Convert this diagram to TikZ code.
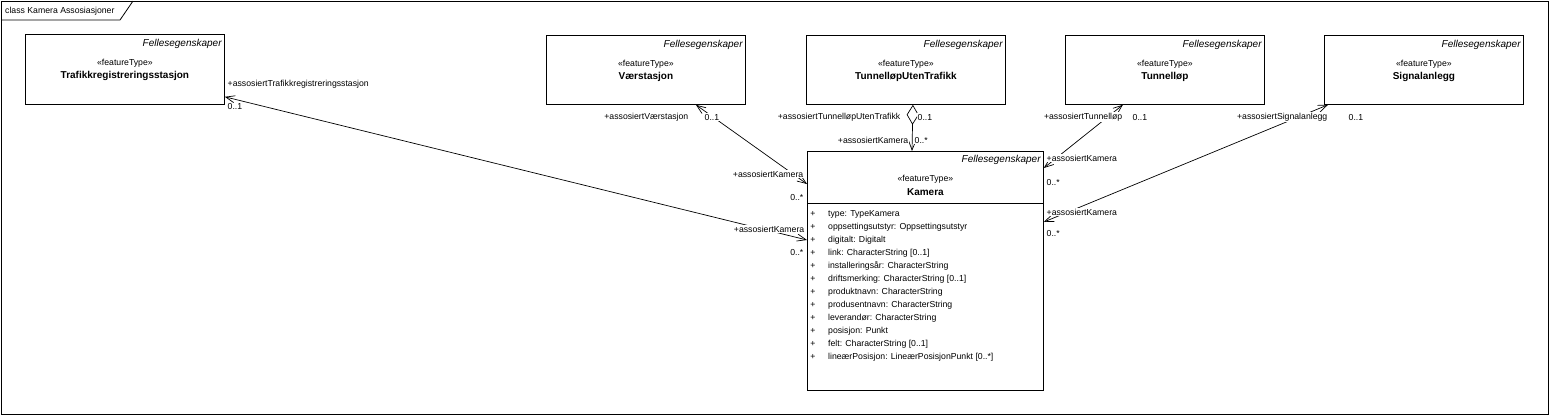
\documentclass[tikz,border=0pt]{standalone}
\usepackage{fontspec}
\setmainfont{Liberation Sans}
\usetikzlibrary{arrows.meta,calc}

\tikzset{
  classbox/.style={draw,line width=0.8pt,inner sep=0pt,anchor=north west,minimum width=199pt,minimum height=69pt},
  stereo/.style={inner sep=0pt},
  clsname/.style={inner sep=0pt,font=\bfseries},
  fellestag/.style={inner sep=0pt,anchor=east,font=\itshape},
  rolle/.style={inner xsep=0.5pt,inner ysep=1pt,fill=white},
  attr/.style={inner sep=0pt,anchor=west},
  barb/.tip={Straight Barb[length=9pt,width=7pt]},
  assoc/.style={line width=0.7pt,barb-barb},
}

\begin{document}
\begin{tikzpicture}[x=1pt,y=-1pt,font=\fontsize{8.7}{10}\selectfont]
    \useasboundingbox (0,0) rectangle (1550,416);

    % ramme
    \draw[line width=0.8pt] (1,1) rectangle (1548,414);
    \draw[line width=0.8pt] (1,20) -- (120,20) -- (133,1);
    \node[anchor=west,inner sep=0pt] (ramme) at (5,11) {class Kamera Assosiasjoner};

    % klasser
    \node[classbox,minimum height=70pt] (trafikk) at (25,34) {};
    \node[classbox] (vaer) at (546,35) {};
    \node[classbox] (tuf) at (806,35) {};
    \node[classbox] (tunnel) at (1065,35) {};
    \node[classbox] (signal) at (1324,35) {};
    \node[classbox,minimum width=236pt,minimum height=239pt] (kamera) at (807,151) {};
    \draw[line width=0.8pt] ($(kamera.north west)+(0,52)$) -- ($(kamera.north east)+(0,52)$);

    \foreach \n/\t in {trafikk/Trafikkregistreringsstasjon, vaer/Værstasjon,
                       tuf/TunnelløpUtenTrafikk, tunnel/Tunnelløp, signal/Signalanlegg}{
        \node[fellestag] (\n-felles) at ($(\n.north east)+(-3,10)$) {Fellesegenskaper};
        \node[stereo] (\n-stereo) at ($(\n.north)+(0,29)$) {«featureType»};
        \node[clsname] (\n-navn) at ($(\n.north)+(0,42)$) {\t};
    }
    \node[fellestag] (kamera-felles) at ($(kamera.north east)+(-3,9)$) {Fellesegenskaper};
    \node[stereo] (kamera-stereo) at ($(kamera.north)+(0,28)$) {«featureType»};
    \node[clsname] (kamera-navn) at ($(kamera.north)+(0,41)$) {Kamera};

    % attributter
    \foreach \a [count=\i from 0] in {type: TypeKamera, oppsettingsutstyr: Oppsettingsutstyr,
        digitalt: Digitalt, link: CharacterString [0..1], installeringsår: CharacterString,
        driftsmerking: CharacterString [0..1], produktnavn: CharacterString,
        produsentnavn: CharacterString, leverandør: CharacterString, posisjon: Punkt,
        felt: CharacterString [0..1], lineærPosisjon: LineærPosisjonPunkt [0..*]}{
        \node[inner sep=0pt] (pluss\i) at ($(kamera.north west)+(6,63+13*\i)$) {+};
        \node[attr] (attr\i) at ($(kamera.north west)+(21,63+13*\i)$) {\a};
    }

    % assosiasjoner
    \draw[assoc] ($(trafikk.south east)+(0,-8)$) -- ($(kamera.north west)+(0,89)$);
    \draw[assoc] ($(vaer.south)+(50,0)$) -- ($(kamera.north west)+(0,33)$);
    \draw[line width=0.7pt,{Diamond[open,length=20pt,width=12pt]}-barb]
        ($(tuf.south)+(7,0)$) -- ($(kamera.north west)+(105,0)$);
    \draw[assoc] ($(tunnel.south)+(-42,0)$) -- ($(kamera.north east)+(0,17)$);
    \draw[assoc] ($(signal.south west)+(4,0)$) -- ($(kamera.north east)+(0,71)$);

    % rollenavn
    \node[rolle,anchor=west] (r1a) at (227,84) {+assosiertTrafikkregistreringsstasjon};
    \node[rolle,anchor=west] (m1a) at (227,107) {0..1};
    \node[rolle,anchor=east] (r1b) at (805,229) {+assosiertKamera};
    \node[rolle,anchor=east] (m1b) at (804,252) {0..*};

    \node[rolle,anchor=east] (r2a) at (689,117) {+assosiertVærstasjon};
    \node[rolle,anchor=west] (m2a) at (704,117) {0..1};
    \node[rolle,anchor=east] (r2b) at (804,174) {+assosiertKamera};
    \node[rolle,anchor=east] (m2b) at (804,197) {0..*};

    \node[rolle,anchor=east] (r3a) at (901,117) {+assosiertTunnelløpUtenTrafikk};
    \node[rolle,anchor=west] (m3a) at (917,117) {0..1};
    \node[rolle,anchor=east] (r3b) at (909,140) {+assosiertKamera};
    \node[rolle,anchor=west] (m3b) at (914,140) {0..*};

    \node[rolle,anchor=east] (r4a) at (1123,117) {+assosiertTunnelløp};
    \node[rolle,anchor=west] (m4a) at (1132,117) {0..1};
    \node[rolle,anchor=west] (r4b) at (1046,158) {+assosiertKamera};
    \node[rolle,anchor=west] (m4b) at (1046,182) {0..*};

    \node[rolle,anchor=east] (r5a) at (1328,117) {+assosiertSignalanlegg};
    \node[rolle,anchor=west] (m5a) at (1348,117) {0..1};
    \node[rolle,anchor=west] (r5b) at (1046,212) {+assosiertKamera};
    \node[rolle,anchor=west] (m5b) at (1046,233) {0..*};

\end{tikzpicture}
\end{document}
